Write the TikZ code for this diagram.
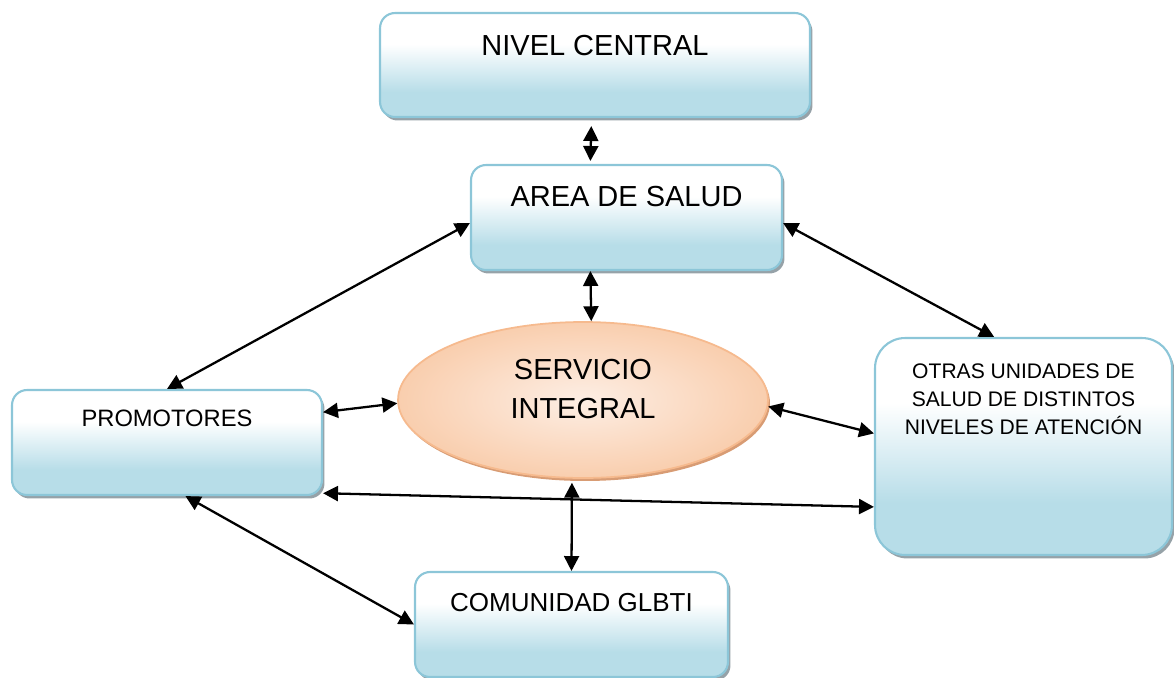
\documentclass[tikz,border=0pt]{standalone}
\usepackage{fontspec}
\setmainfont{Liberation Sans}
\usetikzlibrary{arrows.meta}
\usetikzlibrary{shapes.geometric}
\usetikzlibrary{shadows}
\usetikzlibrary{positioning}
\definecolor{boxblue}{RGB}{183,221,232}
\definecolor{boxline}{RGB}{140,198,216}
\definecolor{boxshadow}{RGB}{150,162,168}
\definecolor{peach}{RGB}{249,206,174}
\definecolor{peachlight}{RGB}{253,238,228}
\definecolor{peachline}{RGB}{246,186,142}
\definecolor{peachshadow}{RGB}{216,156,116}
\pgfdeclareverticalshading{boxshading}{100bp}{color(0bp)=(boxblue); color(37bp)=(boxblue); color(60bp)=(white); color(100bp)=(white)}

\begin{document}
\begin{tikzpicture}[
	x=0.02cm, y=-0.02cm,
  > = {Triangle[length=8.5pt,width=8.5pt]},
  box/.style = {draw=boxline, line width=1.2pt, rounded corners=0.3cm, shading=boxshading, inner sep=0pt,
    drop shadow={shadow xshift=0.05cm, shadow yshift=-0.07cm, opacity=1, fill=boxshadow}},
  oval/.style = {ellipse, draw=peachline, line width=1pt, inner color=peachlight, outer color=peach, inner sep=0pt,
    drop shadow={shadow xshift=0.04cm, shadow yshift=-0.06cm, opacity=1, fill=peachshadow}},
  big/.style = {font=\fontsize{16.5}{22}\selectfont, align=center, inner sep=0pt},
  small/.style = {font=\fontsize{12}{16}\selectfont, align=center, inner sep=0pt},
  link/.style = {<->, line width=1.3pt}
  ]
	\useasboundingbox (0,0) rectangle (1174,677);

	\node[box, minimum width=8.6cm, minimum height=2.08cm,
		label={[big, anchor=base, yshift=-0.88cm]north:NIVEL CENTRAL}] (central) at (595,65) {};
	\node[box, minimum width=6.22cm, minimum height=2.1cm,
		label={[big, anchor=base, yshift=-0.86cm]north:AREA DE SALUD}] (area) at (626.5,217.5) {};
	\node[box, minimum width=6.2cm, minimum height=2.1cm,
		label={[small, font=\fontsize{13.5}{16}\selectfont, anchor=base, yshift=-0.76cm]north:PROMOTORES}] (promo) at (167,442.5) {};
	\node[box, minimum width=6.26cm, minimum height=2.1cm,
		label={[small, font=\fontsize{14.8}{18}\selectfont, anchor=base, yshift=-0.82cm]north:COMUNIDAD GLBTI}] (comunidad) at (571.5,624.5) {};
	\node[box, rounded corners=0.6cm, minimum width=5.94cm, minimum height=4.34cm,
		label={[small, anchor=center, yshift=-1.25cm]north:OTRAS UNIDADES DE\\SALUD DE DISTINTOS\\NIVELES DE ATENCIÓN}] (otras) at (1023.5,446.5) {};
	\node[oval, minimum width=7.4cm, minimum height=3.12cm,
		label={[big, anchor=center, yshift=0.22cm]center:SERVICIO\\INTEGRAL}] (servicio) at (583,400) {};

	% connectors
	\draw[link] ([yshift=-0.16cm]central.266) -- ([yshift=0.06cm]area.124);
	\draw[link] (area.236) -- (servicio.84);
	\draw[link] (area.182) -- (promo.north);
	\draw[link] (area.358) -- (otras.105);
	\draw[link] (promo.11) -- (servicio.181);
	\draw[link] (servicio.358) -- (otras.175);
	\draw[link] (promo.342) -- (otras.202);
	\draw[link] ([yshift=-0.08cm]servicio.262) -- (comunidad.north);
	\draw[link] (promo.289) -- (comunidad.west);

\end{tikzpicture}
\end{document}
